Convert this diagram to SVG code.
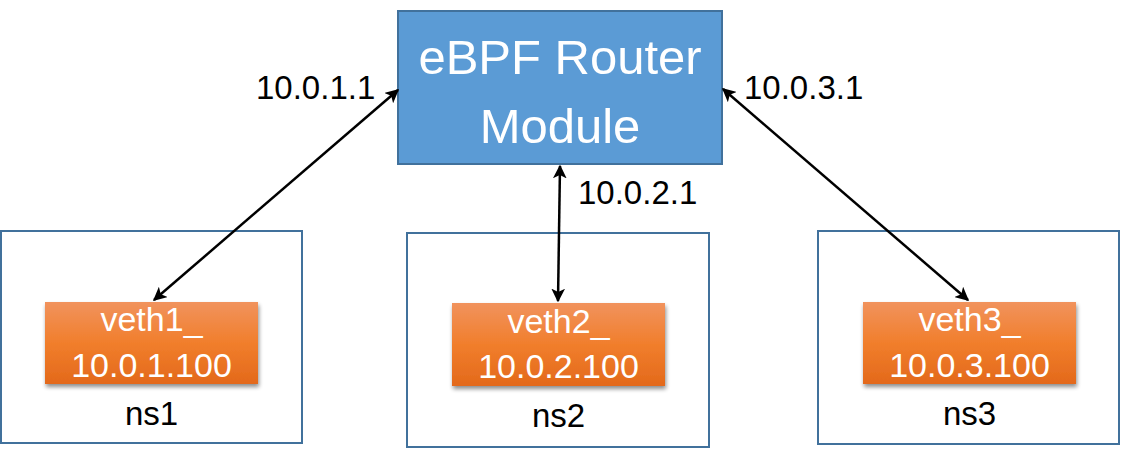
<svg xmlns="http://www.w3.org/2000/svg" width="1121" height="461" viewBox="0 0 1121 461">
<style>
.ns{fill:#fff;stroke:#41719C;stroke-width:2}
.veth{fill:url(#og);filter:url(#sh)}
.wt{font-family:"Liberation Sans",Arial,sans-serif;fill:#fff;text-anchor:middle}
.bt{font-family:"Liberation Sans",Arial,sans-serif;fill:#000;font-size:33px}
.conn{stroke:#000;stroke-width:2.5;fill:none;marker-start:url(#ah);marker-end:url(#ah)}
</style>
<defs>
<linearGradient id="og" x1="0" y1="0" x2="0" y2="1">
<stop offset="0" stop-color="#F1935D"/>
<stop offset="0.5" stop-color="#F17E2C"/>
<stop offset="1" stop-color="#E3691B"/>
</linearGradient>
<filter id="sh" x="-10%" y="-10%" width="120%" height="130%">
<feGaussianBlur in="SourceAlpha" stdDeviation="2"/>
<feOffset dx="1" dy="3" result="b"/>
<feComponentTransfer><feFuncA type="linear" slope="0.45"/></feComponentTransfer>
<feMerge><feMergeNode/><feMergeNode in="SourceGraphic"/></feMerge>
</filter>
<marker id="ah" viewBox="0 0 10 10" refX="9" refY="5" markerWidth="5.5" markerHeight="5.5" orient="auto-start-reverse" markerUnits="strokeWidth">
<path d="M0,0 L10,5 L0,10 L2.5,5 z" fill="#000"/>
</marker>
</defs>
<rect width="1121" height="461" fill="#fff"/>
<g id="ns1">
<rect class="ns" x="1" y="231" width="301" height="212"/>
<rect class="veth" x="45" y="302" width="213" height="82"/>
<text class="wt" x="151.5" y="331" font-size="34">veth1_</text>
<text class="wt" x="151.5" y="377" font-size="34">10.0.1.100</text>
<text class="bt" x="151.5" y="425" text-anchor="middle">ns1</text>
</g>
<g id="ns2">
<rect class="ns" x="407" y="233" width="302" height="214"/>
<rect class="veth" x="452" y="303" width="213" height="83"/>
<text class="wt" x="558.5" y="333" font-size="34">veth2_</text>
<text class="wt" x="558.5" y="378" font-size="34">10.0.2.100</text>
<text class="bt" x="558.5" y="427" text-anchor="middle">ns2</text>
</g>
<g id="ns3">
<rect class="ns" x="818" y="231" width="301" height="213"/>
<rect class="veth" x="863" y="302" width="213" height="82"/>
<text class="wt" x="969.5" y="331" font-size="34">veth3_</text>
<text class="wt" x="969.5" y="377" font-size="34">10.0.3.100</text>
<text class="bt" x="969.5" y="425" text-anchor="middle">ns3</text>
</g>
<g id="router">
<rect x="398" y="11" width="324" height="153" fill="#5B9BD5" stroke="#41719C" stroke-width="2"/>
<text class="wt" x="560" y="74" font-size="49">eBPF Router</text>
<text class="wt" x="560" y="143" font-size="49">Module</text>
</g>
<g id="connectors">
<line class="conn" x1="398" y1="90" x2="154" y2="300"/>
<line class="conn" x1="560" y1="166" x2="558" y2="301"/>
<line class="conn" x1="723" y1="89" x2="968" y2="300"/>
</g>
<g id="labels">
<text class="bt" x="256" y="99">10.0.1.1</text>
<text class="bt" x="578" y="204">10.0.2.1</text>
<text class="bt" x="744" y="99">10.0.3.1</text>
</g>
</svg>
